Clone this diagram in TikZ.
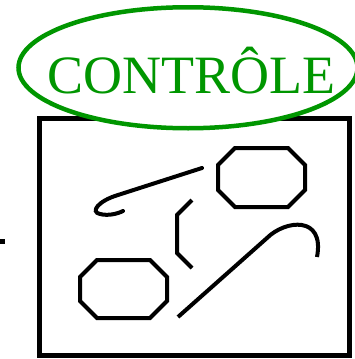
\documentclass[tikz,border=0pt]{standalone}
\usepackage{fontspec}
\setmainfont{Liberation Serif}
\usetikzlibrary{shapes.geometric}
\definecolor{ctrlgreen}{RGB}{0,150,0}
\begin{document}
\begin{tikzpicture}[x=1pt,y=-1pt,
  figline/.style={draw=black,line width=4pt,line join=miter},
  frame/.style={draw=black,line width=5pt},
  ring/.style={draw=ctrlgreen,fill=white,line width=4.5pt}]
\useasboundingbox (0,0) rectangle (355,359);
\begin{scope}
\clip (0,0) rectangle (355,359);
% frame
\draw[frame] (39.8,118) rectangle (349.8,355.5);
% left dash
\coordinate (d1) at (-2,241);
\coordinate (d2) at (5,241);
\draw[frame] (d1) -- (d2);
% upper-right octagon
\draw[figline] (235,148) -- (288,148) -- (305,165) -- (305,190) -- (288,207) -- (235,207) -- (218,190) -- (218,165) -- cycle;
% lower-left octagon
\draw[figline] (97,260) -- (150,260) -- (167,277) -- (167,301) -- (150,318) -- (97,318) -- (80,301) -- (80,277) -- cycle;
% hook
\draw[figline,line cap=round] (202,168) -- (118,195) .. controls (98,201) and (90,212) .. (100,214) .. controls (108,216) and (117,214) .. (123,211);
% bracket
\draw[figline] (192,200) -- (177,215) -- (177,253) -- (192,268);
% cane
\draw[figline] (178,317) -- (267,238) .. controls (285,220) and (325,215) .. (317,257);
% ellipse with label
\draw[ring] (188,67.75) ellipse [x radius=169.5, y radius=60.5];
\node[text=ctrlgreen,font=\fontsize{54}{54}\selectfont,inner sep=0pt] (lbl) at (191.5,70.5) {CONTRÔLE};
\end{scope}
\end{tikzpicture}
\end{document}
